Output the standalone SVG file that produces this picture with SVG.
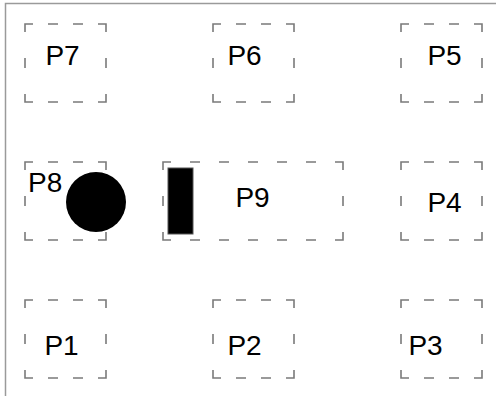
<svg xmlns="http://www.w3.org/2000/svg" width="496" height="396" viewBox="0 0 496 396">
<style>
.frame{fill:#fff;stroke:#9a9a9a;stroke-width:1.5}
.pad{fill:none;stroke:#7a7a7a;stroke-width:1.6;stroke-dasharray:8 15 10 15 10 15 16 26 10 26 16 15 10 15 10 15 16 26 10 26 8 400}
.wide{fill:none;stroke:#7a7a7a;stroke-width:1.6;stroke-dasharray:8 19 10 19 10 19 10 19 10 19 10 19 16 26 10 26 16 19 10 19 10 19 10 19 10 19 10 19 16 26 10 26 8 600}
.lbl{font-family:"Liberation Sans",Arial,sans-serif;font-size:28px;fill:#000}
</style>
<rect x="0" y="0" width="496" height="396" fill="#fff"/>
<rect class="frame" x="5.5" y="3.5" width="520" height="420"/>
<g id="P7"><rect class="pad" x="25" y="24" width="81" height="78"/><text class="lbl" x="62.5" y="65" text-anchor="middle">P7</text></g>
<g id="P6"><rect class="pad" x="213" y="24" width="81" height="78"/><text class="lbl" x="244.5" y="65" text-anchor="middle">P6</text></g>
<g id="P5"><rect class="pad" x="401" y="24" width="81" height="78"/><text class="lbl" x="444.5" y="65" text-anchor="middle">P5</text></g>
<g id="P8"><rect class="pad" x="25" y="162" width="81" height="78"/><text class="lbl" x="28" y="192">P8</text><circle cx="96" cy="202" r="30" fill="#000"/></g>
<g id="P9"><rect class="wide" x="163" y="162" width="180" height="78"/><rect x="168" y="168" width="25" height="66" fill="#000" stroke="#555" stroke-width="1"/><text class="lbl" x="252.5" y="207" text-anchor="middle">P9</text></g>
<g id="P4"><rect class="pad" x="401" y="162" width="81" height="78"/><text class="lbl" x="444.5" y="212" text-anchor="middle">P4</text></g>
<g id="P1"><rect class="pad" x="25" y="300" width="81" height="78"/><text class="lbl" x="61.5" y="355" text-anchor="middle">P1</text></g>
<g id="P2"><rect class="pad" x="213" y="300" width="81" height="78"/><text class="lbl" x="244.5" y="355" text-anchor="middle">P2</text></g>
<g id="P3"><rect class="pad" x="401" y="300" width="81" height="78"/><text class="lbl" x="425.5" y="355" text-anchor="middle">P3</text></g>
<g id="connectors"></g>
</svg>
